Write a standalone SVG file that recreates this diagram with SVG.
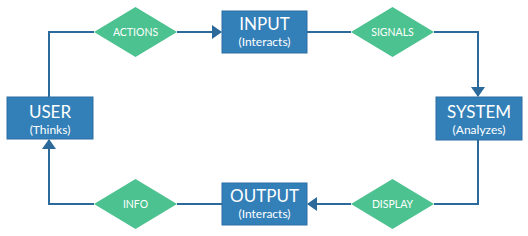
<svg xmlns="http://www.w3.org/2000/svg" width="528" height="236" viewBox="0 0 528 236">
<style>
.box{fill:#337fb8;stroke:#2a6fa3;stroke-width:1}
.dia{fill:#4bc28f}
.ln{fill:none;stroke:#2b6a9a;stroke-width:2}
.t1{font-family:Lato,"Liberation Sans",sans-serif;font-size:17px;fill:#fff;text-anchor:middle}
.t2{font-family:Lato,"Liberation Sans",sans-serif;font-size:12px;fill:#fff;text-anchor:middle}
.t3{font-family:Lato,"Liberation Sans",sans-serif;font-size:10.5px;fill:#fff;text-anchor:middle}
</style>
<defs>
<marker id="ah" markerWidth="10" markerHeight="14" refX="9" refY="7" orient="auto" markerUnits="userSpaceOnUse">
<path d="M0,0 L10,7 L0,14 Z" fill="#2b6a9a"/>
</marker>
</defs>
<g id="connectors">
<path class="ln" d="M94,32 H49 V97"/>
<path class="ln" d="M177,32 H221" marker-end="url(#ah)"/>
<path class="ln" d="M307,32 H351"/>
<path class="ln" d="M434,32 H478 V96" marker-end="url(#ah)"/>
<path class="ln" d="M478,140 V204 H434"/>
<path class="ln" d="M351,204 H308" marker-end="url(#ah)"/>
<path class="ln" d="M222,204 H177"/>
<path class="ln" d="M94,204 H49 V140" marker-end="url(#ah)"/>
</g>
<g id="user">
<rect class="box" x="7" y="97" width="86" height="42"/>
<text class="t1" x="50" y="118">USER</text>
<text class="t2" x="50" y="134">(Thinks)</text>
</g>
<g id="input">
<rect class="box" x="222" y="11" width="85" height="42"/>
<text class="t1" x="264.5" y="30">INPUT</text>
<text class="t2" x="264.5" y="46">(Interacts)</text>
</g>
<g id="system">
<rect class="box" x="436" y="97" width="86" height="43"/>
<text class="t1" x="479" y="118">SYSTEM</text>
<text class="t2" x="479" y="134">(Analyzes)</text>
</g>
<g id="output">
<rect class="box" x="222" y="183" width="85" height="42"/>
<text class="t1" x="264.5" y="202">OUTPUT</text>
<text class="t2" x="264.5" y="218">(Interacts)</text>
</g>
<g id="actions">
<polygon class="dia" points="94,32 135.5,7 177,32 135.5,57"/>
<text class="t3" x="135.5" y="36">ACTIONS</text>
</g>
<g id="signals">
<polygon class="dia" points="351,32 392.5,7 434,32 392.5,57"/>
<text class="t3" x="392.5" y="36">SIGNALS</text>
</g>
<g id="info">
<polygon class="dia" points="94,204 135.5,179 177,204 135.5,229"/>
<text class="t3" x="135.5" y="208">INFO</text>
</g>
<g id="display">
<polygon class="dia" points="351,204 392.5,179 434,204 392.5,229"/>
<text class="t3" x="392.5" y="208">DISPLAY</text>
</g>
</svg>
